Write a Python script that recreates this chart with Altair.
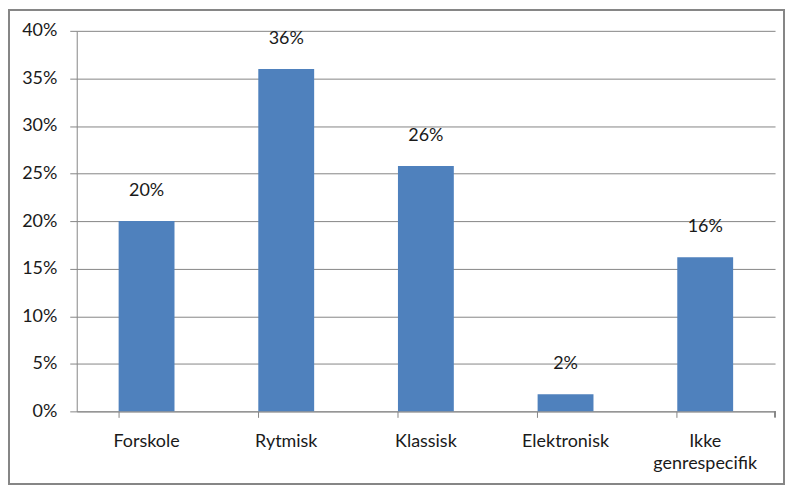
import altair as alt
import pandas as pd

categories = ["Forskole", "Rytmisk", "Klassisk", "Elektronisk", "Ikke genrespecifik"]
values = [0.20, 0.36, 0.258, 0.018, 0.162]
labels = ["20%", "36%", "26%", "2%", "16%"]

df = pd.DataFrame({"cat": categories, "val": values, "lab": labels})

W, H = 701, 382
FONT = "Lato"
FS = 18
GRAY = "#868686"

x = alt.X("cat:N", sort=categories, title=None,
          scale=alt.Scale(paddingInner=0.6, paddingOuter=0.3),
          axis=alt.Axis(labelAngle=0, bandPosition=0, tickSize=6, tickColor=GRAY,
                        domainColor=GRAY, labelPadding=15, labelFontSize=FS,
                        labelFont=FONT, labelColor="#1a1a1a", labelLineHeight=22,
                        labelExpr="datum.value == 'Ikke genrespecifik' ? ['Ikke', 'genrespecifik'] : datum.value"))
y = alt.Y("val:Q", title=None,
          scale=alt.Scale(domain=[0, 0.4]),
          axis=alt.Axis(format=".0%", values=[0, 0.05, 0.1, 0.15, 0.2, 0.25, 0.3, 0.35, 0.4],
                        tickSize=7, tickColor=GRAY, domainColor=GRAY, gridColor=GRAY,
                        labelPadding=13, labelFontSize=FS, labelFont=FONT, labelColor="#1a1a1a"))

bars = alt.Chart(df).mark_bar(color="#4F81BD").encode(x=x, y=y)
text = alt.Chart(df).mark_text(baseline="bottom", dy=-21, fontSize=FS, font=FONT, color="#1a1a1a").encode(
    x=alt.X("cat:N", sort=categories), y="val:Q", text="lab:N")

end_tick = alt.Chart(df).mark_rule(color=GRAY).encode(
    x=alt.value(W), y=alt.value(H), y2=alt.value(H + 6))

border = alt.Chart(df).mark_rect(fill=None, stroke=GRAY, strokeWidth=2).encode(
    x=alt.value(-68), x2=alt.value(W + 9), y=alt.value(-21), y2=alt.value(H + 73))

chart = alt.layer(border, bars, text, end_tick).properties(
    width=W, height=H,
    padding={"left": 69, "top": 22, "right": 10, "bottom": 74},
    autosize=alt.AutoSizeParams(type="none"),
).configure_view(stroke=None).configure_axis(grid=True).configure_axisX(grid=False)

chart.save("out.html", embed_options={"renderer": "svg", "actions": False})
